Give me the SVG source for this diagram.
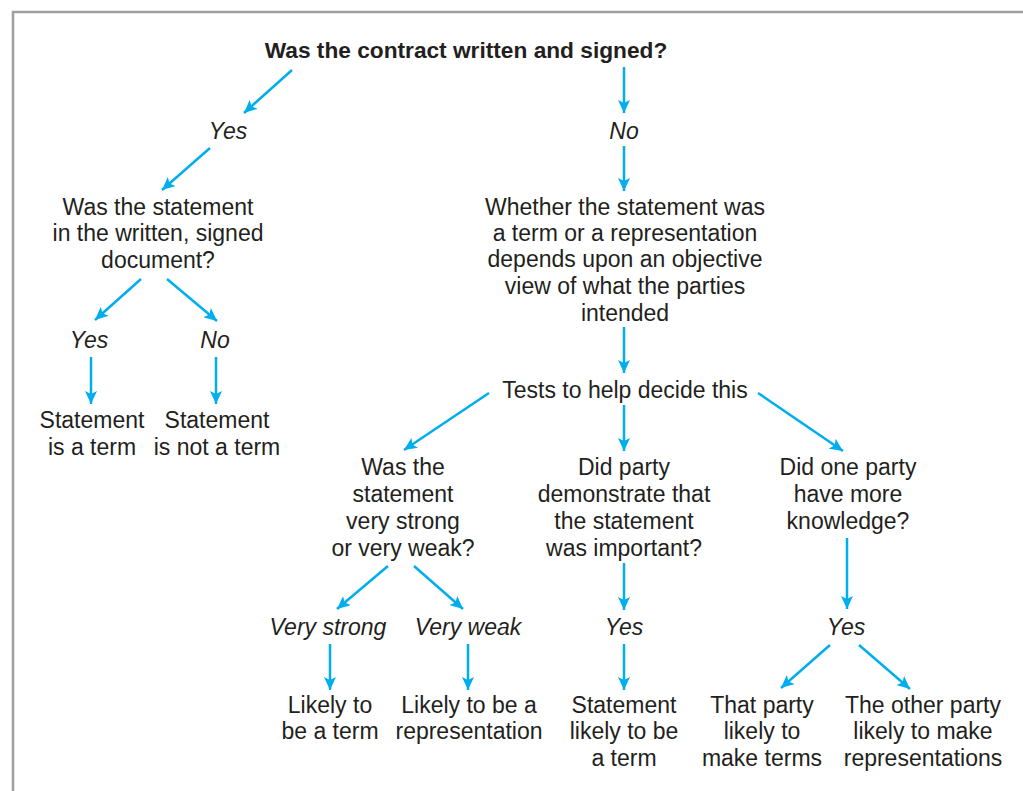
<svg xmlns="http://www.w3.org/2000/svg" width="1023" height="791" viewBox="0 0 1023 791">
<defs>
<marker id="ah" markerUnits="userSpaceOnUse" markerWidth="14" markerHeight="12" refX="13" refY="6" orient="auto">
<path d="M0,0 L13,6 L0,12 L3,6 Z" fill="#00aeef"/>
</marker>
<style>
text{font-family:"Liberation Sans",Arial,sans-serif;font-size:23px;fill:#231f20;text-anchor:middle}
.b{font-weight:bold;font-size:22.7px}
.i{font-style:italic}
#connectors line{stroke:#00aeef;stroke-width:2.5;marker-end:url(#ah)}
</style>
</defs>
<rect width="1023" height="791" fill="#fff"/>
<path d="M13,791 V12 H1023" fill="none" stroke="#a0a0a0" stroke-width="2.5"/>
<g id="q1"><text class="b" x="466" y="58">Was the contract written and signed?</text></g>
<g id="yes1"><text class="i" x="228" y="139">Yes</text></g>
<g id="no1"><text class="i" x="624" y="139">No</text></g>
<g id="q2"><text x="158" y="215">Was the statement</text><text x="158" y="241">in the written, signed</text><text x="158" y="268">document?</text></g>
<g id="objective"><text x="625" y="215">Whether the statement was</text><text x="625" y="241">a term or a representation</text><text x="625" y="267">depends upon an objective</text><text x="625" y="294">view of what the parties</text><text x="625" y="321">intended</text></g>
<g id="yes2"><text class="i" x="89" y="348">Yes</text></g>
<g id="no2"><text class="i" x="215" y="348">No</text></g>
<g id="term"><text x="92" y="428">Statement</text><text x="92" y="455">is a term</text></g>
<g id="notterm"><text x="217" y="428">Statement</text><text x="217" y="455">is not a term</text></g>
<g id="tests"><text x="625" y="398">Tests to help decide this</text></g>
<g id="strong"><text x="403" y="475">Was the</text><text x="403" y="502">statement</text><text x="403" y="529">very strong</text><text x="403" y="556">or very weak?</text></g>
<g id="important"><text x="624" y="475">Did party</text><text x="624" y="502">demonstrate that</text><text x="624" y="529">the statement</text><text x="624" y="556">was important?</text></g>
<g id="knowledge"><text x="848" y="475">Did one party</text><text x="848" y="502">have more</text><text x="848" y="529">knowledge?</text></g>
<g id="vstrong"><text class="i" x="328" y="635">Very strong</text></g>
<g id="vweak"><text class="i" x="468" y="635">Very weak</text></g>
<g id="yes3"><text class="i" x="624" y="635">Yes</text></g>
<g id="yes4"><text class="i" x="846" y="635">Yes</text></g>
<g id="lterm"><text x="330" y="713">Likely to</text><text x="330" y="739">be a term</text></g>
<g id="lrep"><text x="469" y="713">Likely to be a</text><text x="469" y="739">representation</text></g>
<g id="sterm"><text x="624" y="713">Statement</text><text x="624" y="739">likely to be</text><text x="624" y="766">a term</text></g>
<g id="thatparty"><text x="762" y="713">That party</text><text x="762" y="739">likely to</text><text x="762" y="766">make terms</text></g>
<g id="otherparty"><text x="923" y="713">The other party</text><text x="923" y="739">likely to make</text><text x="923" y="766">representations</text></g>
<g id="connectors">
<line x1="292" y1="70" x2="244" y2="113"/>
<line x1="624" y1="67" x2="624" y2="113"/>
<line x1="210" y1="148" x2="162" y2="190"/>
<line x1="624" y1="146" x2="624" y2="191"/>
<line x1="141" y1="279" x2="95" y2="320"/>
<line x1="167" y1="279" x2="217" y2="321"/>
<line x1="91" y1="357" x2="91" y2="404"/>
<line x1="216" y1="357" x2="216" y2="404"/>
<line x1="624" y1="327" x2="624" y2="373"/>
<line x1="489" y1="393" x2="404" y2="450"/>
<line x1="624" y1="405" x2="624" y2="451"/>
<line x1="758" y1="393" x2="843" y2="451"/>
<line x1="388" y1="566" x2="337" y2="609"/>
<line x1="414" y1="566" x2="463" y2="609"/>
<line x1="330" y1="644" x2="330" y2="690"/>
<line x1="468" y1="644" x2="468" y2="690"/>
<line x1="624" y1="563" x2="624" y2="610"/>
<line x1="624" y1="644" x2="624" y2="690"/>
<line x1="847" y1="538" x2="847" y2="609"/>
<line x1="830" y1="645" x2="781" y2="688"/>
<line x1="859" y1="645" x2="910" y2="689"/>
</g>
</svg>
